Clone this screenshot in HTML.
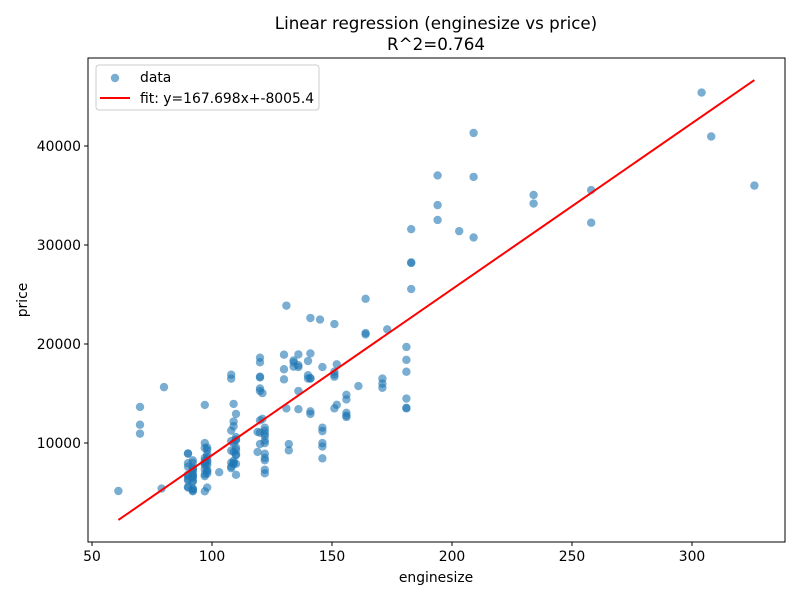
<!DOCTYPE html>
<html><head><meta charset="utf-8"><style>
body{margin:0;background:#fff;}
svg text{font-family:"DejaVu Sans","Liberation Sans",sans-serif;fill:#000;}
</style></head><body>
<svg id="chart" width="800" height="600" viewBox="0 0 800 600" xmlns="http://www.w3.org/2000/svg">
<rect width="800" height="600" fill="#fff"/>
<text x="436" y="29" font-size="16.7" text-anchor="middle">Linear regression (enginesize vs price)</text>
<text x="436" y="50" font-size="16.7" text-anchor="middle">R^2=0.764</text>
<g id="marks"></g>
<g id="axes"></g>
<rect x="88" y="58" width="697" height="484" fill="none" stroke="#000" stroke-width="1"/>
<text x="436" y="582" font-size="13.9" text-anchor="middle">enginesize</text>
<text transform="translate(27,300) rotate(-90)" font-size="13.9" text-anchor="middle">price</text>
<g>
<rect x="96" y="65" width="223" height="45" rx="3" fill="#fff" fill-opacity="0.8" stroke="#ccc"/>
<circle cx="115" cy="78" r="4.2" fill="#1f77b4" fill-opacity="0.6"/>
<text x="140" y="82" font-size="13.9">data</text>
<line x1="100" y1="98" x2="130" y2="98" stroke="#f00" stroke-width="2"/>
<text x="140" y="103" font-size="13.9">fit: y=167.698x+-8005.4</text>
</g>
</svg>
<script>
const engineSize=[61,70,70,70,79,80,
90,90,90,90,90,90,90,90,90,90,
92,92,92,92,92,92,92,92,92,92,92,92,92,92,92,92,
97,97,97,97,97,97,97,97,97,97,98,98,98,98,98,98,98,98,98,98,97,97,98,
103,
108,108,108,108,108,108,108,108,109,109,109,109,109,109,109,109,110,110,110,110,110,110,110,110,110,110,
120,120,120,120,120,120,120,120,120,121,121,122,122,122,122,122,122,122,122,122,122,122,119,119,
130,130,130,131,131,132,132,134,134,134,136,136,136,136,136,
140,140,140,141,141,141,141,141,141,145,146,146,146,146,146,146,
151,151,151,151,151,152,152,156,156,156,156,156,
161,164,164,164,171,171,171,173,
181,181,181,181,181,181,183,183,183,183,
194,194,194,203,209,209,209,234,234,258,258,304,308,326];
const price=[5151,13645,11845,10945,5399,15645,
5572,6377,7957,6229,6692,7609,8921,8949,6795,5499,
5195,6095,6795,6695,7395,6488,7499,5348,7999,8249,5389,6189,6669,7099,5118,7295,
7775,7975,7995,8195,8495,9495,9995,7349,6649,6849,7299,7799,8058,8238,8558,9298,9538,8845,5499,7129,13845,5118,6918,
7053,
7609,8013,9233,11259,16900,16500,10198,7463,7975,8195,9095,9980,11694,12170,13950,7898,8778,9549,10295,12940,6785,8845,10345,10595,7898,9279,
11048,9895,12290,15510,15250,18150,18620,16630,16695,12440,15040,8921,8499,8249,10245,11245,10945,11549,7295,6938,9989,10698,11120,9095,
18920,17450,16430,23875,13495,9258,9895,18150,18344,17710,15250,13415,17859,18950,17669,
16515,18280,16845,22625,16500,13200,12940,19045,16558,22470,8449,11199,11549,9639,9989,17669,
13499,17199,16900,16695,22018,13860,17950,12764,12629,13049,14399,14869,
15750,20970,21105,24565,15580,16503,15998,21485,
13499,14489,17199,18399,19699,13550,25552,28176,28248,31600,
32528,34028,37028,31400,30760,36880,41315,34184,35056,32250,35550,45400,40960,36000];
const slope=167.698, intercept=-8005.4;
const xTicks=[50,100,150,200,250,300];
const yTicks=[10000,20000,30000,40000];

const NS="http://www.w3.org/2000/svg";
function xs(v){return 92+(v-50)*2.4;}
function ys(v){return 542-v*0.0099;}
const marks=document.getElementById('marks');
const axes=document.getElementById('axes');
for(let i=0;i<engineSize.length;i++){
  const c=document.createElementNS(NS,'circle');
  c.setAttribute('cx',xs(engineSize[i]));c.setAttribute('cy',ys(price[i]));
  c.setAttribute('r',4.2);c.setAttribute('fill','#1f77b4');c.setAttribute('fill-opacity','0.6');
  
  
  marks.appendChild(c);
}
const xmin=Math.min(...engineSize), xmax=Math.max(...engineSize);
const ln=document.createElementNS(NS,'line');
ln.setAttribute('x1',xs(xmin));ln.setAttribute('y1',ys(slope*xmin+intercept));
ln.setAttribute('x2',xs(xmax));ln.setAttribute('y2',ys(slope*xmax+intercept));
ln.setAttribute('stroke','#f00');ln.setAttribute('stroke-width','2');


marks.appendChild(ln);
xTicks.forEach(t=>{
  const l=document.createElementNS(NS,'line');
  l.setAttribute('x1',xs(t));l.setAttribute('x2',xs(t));l.setAttribute('y1',542);l.setAttribute('y2',546);l.setAttribute('stroke','#000');
  
  
  axes.appendChild(l);
  const tx=document.createElementNS(NS,'text');
  tx.setAttribute('x',xs(t));tx.setAttribute('y',561);tx.setAttribute('font-size','13.9');tx.setAttribute('text-anchor','middle');
  tx.textContent=t;
  
  
  axes.appendChild(tx);
});
yTicks.forEach(t=>{
  const l=document.createElementNS(NS,'line');
  l.setAttribute('x1',84);l.setAttribute('x2',88);l.setAttribute('y1',ys(t));l.setAttribute('y2',ys(t));l.setAttribute('stroke','#000');
  
  
  axes.appendChild(l);
  const tx=document.createElementNS(NS,'text');
  tx.setAttribute('x',81);tx.setAttribute('y',ys(t)+5);tx.setAttribute('font-size','13.9');tx.setAttribute('text-anchor','end');
  tx.textContent=t;
  
  
  axes.appendChild(tx);
});
</script>
</body></html>
